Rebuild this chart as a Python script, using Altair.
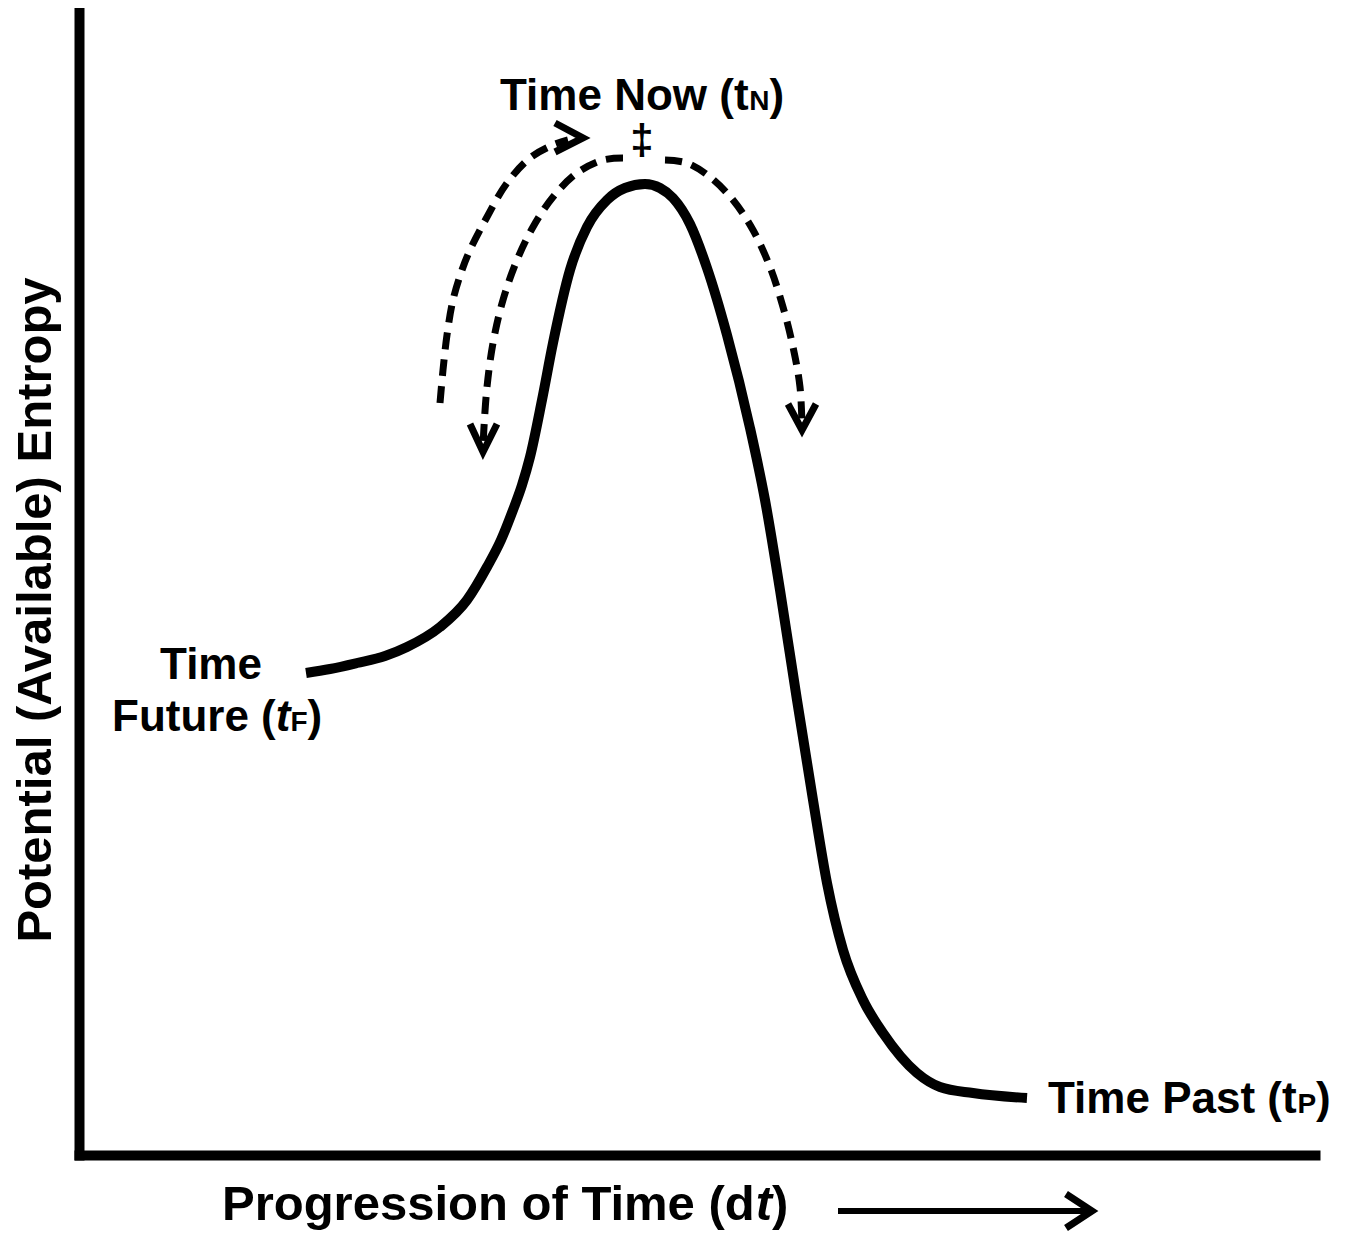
import altair as alt
import pandas as pd

# ---------------- data (image-pixel units) ----------------
# main entropy curve
curve_x = [306, 330, 357, 385, 407, 440, 467, 487, 501, 513, 522, 530, 542, 553, 570,
           587, 607, 625, 645, 660, 673, 690, 707, 727, 750, 765, 780, 797, 813, 827,
           843, 863, 883, 917, 940, 973, 1027]
curve_y = [673, 669, 663, 656, 647, 627, 600, 567, 540, 510, 485, 457, 400, 343, 270,
           227, 200, 188, 184, 188, 198, 224, 268, 335, 428, 500, 590, 700, 800, 883,
           950, 1000, 1033, 1073, 1087, 1093, 1098]

# dashed arcs
outer_x = [440, 443, 447, 453, 462, 470, 487, 507, 530, 553, 568]
outer_y = [403, 370, 335, 300, 270, 250, 217, 183, 158, 145, 140]
inner_x = [623, 603, 577, 553, 533, 517, 503, 493, 487, 484, 483]
inner_y = [158, 160, 173, 197, 227, 260, 300, 343, 387, 427, 448]
right_x = [665, 687, 710, 733, 753, 770, 783, 793, 800, 802]
right_y = [160, 163, 177, 200, 230, 267, 307, 347, 387, 426]

# arrow heads: arm, tip, arm
head_outer_x = [555, 583, 555]
head_outer_y = [123, 138, 152]
head_inner_x = [470, 483, 497]
head_inner_y = [424, 452, 424]
head_right_x = [788, 802, 816]
head_right_y = [404, 430, 404]

# time arrow under the x axis
time_line_x = [838, 1088]
time_line_y = [1211, 1211]
time_head_x = [1066, 1092, 1066]
time_head_y = [1194, 1211, 1228]

# texts
y_title = "Potential (Available) Entropy"
label_runs = [
    # (x, baseline y, [(text, size, italic)])
    (500, 110, [("Time Now (t", 44, False), ("N", 28, False), (")", 44, False)]),
    (1048, 1113, [("Time Past (t", 44, False), ("P", 28, False), (")", 44, False)]),
    (112, 731, [("Future (", 44, False), ("t", 44, True), ("F", 28, False), (")", 44, False)]),
    (222, 1220, [("Progression of Time (d", 49, False), ("t", 49, True), (")", 49, False)]),
]
center_labels = [("Time", 211, 679, 44), ("\u2021", 642, 154, 42)]

# ---------------- helpers ----------------
W = {" ": 278, "(": 333, ")": 333, "A": 722, "E": 667, "F": 611, "N": 722, "P": 667,
     "T": 611, "a": 556, "b": 611, "d": 611, "e": 556, "f": 333, "g": 611, "i": 278,
     "l": 278, "m": 889, "n": 611, "o": 611, "p": 611, "r": 389, "s": 556, "t": 333,
     "u": 611, "v": 556, "w": 778, "y": 556}


def text_width(s, size):
    return sum(W.get(c, 556) for c in s) * size / 1000.0


rows = []
for lx, ly, runs in label_runs:
    cx = lx
    for txt, size, italic in runs:
        rows.append({"x": cx, "y": ly, "text": txt, "size": size, "italic": italic})
        cx += text_width(txt, size)
runs_df = pd.DataFrame(rows)
center_df = pd.DataFrame(center_labels, columns=["text", "x", "y", "size"])
ytitle_df = pd.DataFrame([{"x": 51, "y": 610, "text": y_title, "size": 49}])


def series(name, xs, ys):
    return pd.DataFrame({"x": xs, "y": ys, "seq": range(len(xs)), "series": name})


curve_df = series("curve", curve_x, curve_y)
dash_df = pd.concat([series("outer", outer_x, outer_y),
                     series("inner", inner_x, inner_y),
                     series("right", right_x, right_y)])
heads_df = pd.concat([series("h_outer", head_outer_x, head_outer_y),
                      series("h_inner", head_inner_x, head_inner_y),
                      series("h_right", head_right_x, head_right_y),
                      series("h_time", time_head_x, time_head_y)])
tline_df = series("time_line", time_line_x, time_line_y)

# ---------------- scales / axes ----------------
axis = alt.Axis(domain=True, domainWidth=10, domainColor="black", domainCap="square",
                ticks=False, labels=False, grid=False, title=None)
xs = alt.Scale(domain=[79, 1315], nice=False, zero=False)
ys = alt.Scale(domain=[1155, 8], nice=False, zero=False)
X = alt.X("x:Q", scale=xs, axis=axis)
Y = alt.Y("y:Q", scale=ys, axis=axis)

FONT = "Liberation Sans"

curve = alt.Chart(curve_df).mark_line(
    color="black", strokeWidth=10, interpolate="monotone", strokeCap="butt"
).encode(x=X, y=Y, order="seq:Q")

dashed = alt.Chart(dash_df).mark_line(
    color="black", strokeWidth=7, interpolate="catmull-rom", strokeDash=[17, 10]
).encode(x=X, y=Y, detail="series:N", order="seq:Q")

heads = alt.Chart(heads_df).mark_line(
    color="black", strokeWidth=7, interpolate="linear", strokeJoin="miter"
).encode(x=X, y=Y, detail="series:N", order="seq:Q")

tline = alt.Chart(tline_df).mark_line(color="black", strokeWidth=6).encode(
    x=X, y=Y, order="seq:Q")

txt_normal = alt.Chart(runs_df[~runs_df["italic"]]).mark_text(
    align="left", baseline="alphabetic", font=FONT, fontWeight="bold", color="black"
).encode(x=X, y=Y, text="text:N", size=alt.Size("size:Q", scale=None))

txt_italic = alt.Chart(runs_df[runs_df["italic"]]).mark_text(
    align="left", baseline="alphabetic", font=FONT, fontWeight="bold",
    fontStyle="italic", color="black"
).encode(x=X, y=Y, text="text:N", size=alt.Size("size:Q", scale=None))

txt_center = alt.Chart(center_df).mark_text(
    align="center", baseline="alphabetic", font=FONT, fontWeight="bold", color="black"
).encode(x=X, y=Y, text="text:N", size=alt.Size("size:Q", scale=None))

txt_ytitle = alt.Chart(ytitle_df).mark_text(
    align="center", baseline="alphabetic", font=FONT, fontWeight="bold", color="black",
    angle=270
).encode(x=X, y=Y, text="text:N", size=alt.Size("size:Q", scale=None))

chart = alt.layer(
    curve, dashed, heads, tline, txt_normal, txt_italic, txt_center, txt_ytitle
).properties(
    width=1236, height=1147,
    padding={"left": 71, "top": 0, "right": 24, "bottom": 78},
    autosize=alt.AutoSizeParams(type="none"),
    background="white",
).configure_view(strokeWidth=0)

chart.save("out.html", embed_options={"renderer": "svg", "actions": False})
